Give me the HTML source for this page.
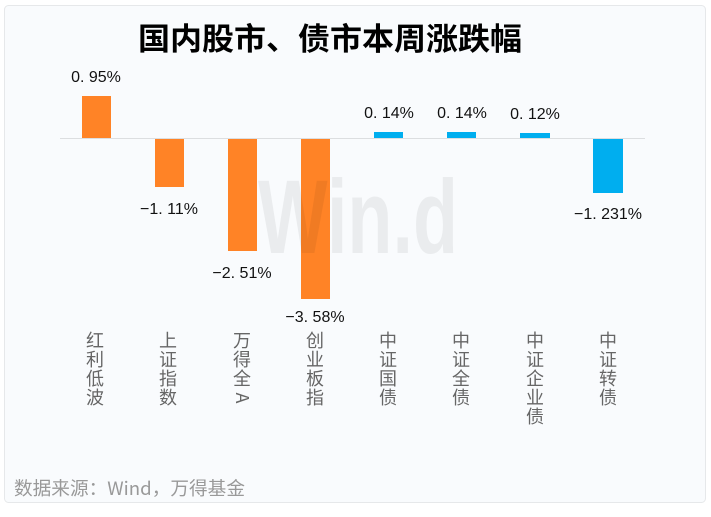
<!DOCTYPE html>
<html><head><meta charset="utf-8"><style>
html,body{margin:0;padding:0;background:#fff;}
body{width:711px;height:512px;overflow:hidden;}
</style></head><body>
<svg width="711" height="512" xmlns="http://www.w3.org/2000/svg" font-family="Liberation Sans, Noto Sans CJK SC, sans-serif">
<rect x="4.5" y="5.5" width="701" height="497" rx="4" fill="#f9fbfd" stroke="#e6e8ea"/>
<text x="330" y="50" text-anchor="middle" font-size="31" font-weight="bold" fill="#000" font-family="Noto Sans CJK SC, sans-serif" textLength="384" lengthAdjust="spacingAndGlyphs">国内股市、债市本周涨跌幅</text>
<line x1="60" y1="138.5" x2="645" y2="138.5" stroke="#dcdee0" stroke-width="1"/>
<g fill="#ff8326">
<rect x="82" y="96" width="29" height="42"/>
<rect x="155" y="139" width="29" height="48"/>
<rect x="228" y="139" width="29" height="112"/>
<rect x="301" y="139" width="29" height="160"/>
</g>
<g fill="#00aeef">
<rect x="374" y="132" width="29" height="6"/>
<rect x="447" y="132" width="29" height="6"/>
<rect x="520" y="133" width="30" height="5"/>
<rect x="593" y="139" width="30" height="54"/>
</g>
<text x="258" y="253" font-size="105" font-weight="bold" fill="rgba(0,0,0,0.06)" textLength="200" lengthAdjust="spacingAndGlyphs">Win.d</text>
<g font-size="16" fill="#111" text-anchor="middle">
<text x="96" y="82">0. 95%</text>
<text x="169" y="214">−1. 11%</text>
<text x="242" y="278">−2. 51%</text>
<text x="315" y="322">−3. 58%</text>
<text x="389" y="118">0. 14%</text>
<text x="462" y="118">0. 14%</text>
<text x="535" y="119">0. 12%</text>
<text x="608" y="219">−1. 231%</text>
</g>
<g font-size="18" fill="#666" text-anchor="middle" font-family="Noto Sans CJK SC, sans-serif">
<text x="95" y="347">红</text><text x="95" y="366">利</text><text x="95" y="385">低</text><text x="95" y="404">波</text>
<text x="168" y="347">上</text><text x="168" y="366">证</text><text x="168" y="385">指</text><text x="168" y="404">数</text>
<text x="242" y="347">万</text><text x="242" y="366">得</text><text x="242" y="385">全</text><text x="242" y="404" transform="rotate(90 242 398)">A</text>
<text x="315" y="347">创</text><text x="315" y="366">业</text><text x="315" y="385">板</text><text x="315" y="404">指</text>
<text x="388" y="347">中</text><text x="388" y="366">证</text><text x="388" y="385">国</text><text x="388" y="404">债</text>
<text x="461" y="347">中</text><text x="461" y="366">证</text><text x="461" y="385">全</text><text x="461" y="404">债</text>
<text x="535" y="347">中</text><text x="535" y="366">证</text><text x="535" y="385">企</text><text x="535" y="404">业</text><text x="535" y="423">债</text>
<text x="608" y="347">中</text><text x="608" y="366">证</text><text x="608" y="385">转</text><text x="608" y="404">债</text>
</g>
<text x="14" y="495" font-size="18.5" fill="#999" font-family="Noto Sans CJK SC, sans-serif" textLength="231" lengthAdjust="spacingAndGlyphs">数据来源：Wind，万得基金</text>
</svg>
</body></html>
